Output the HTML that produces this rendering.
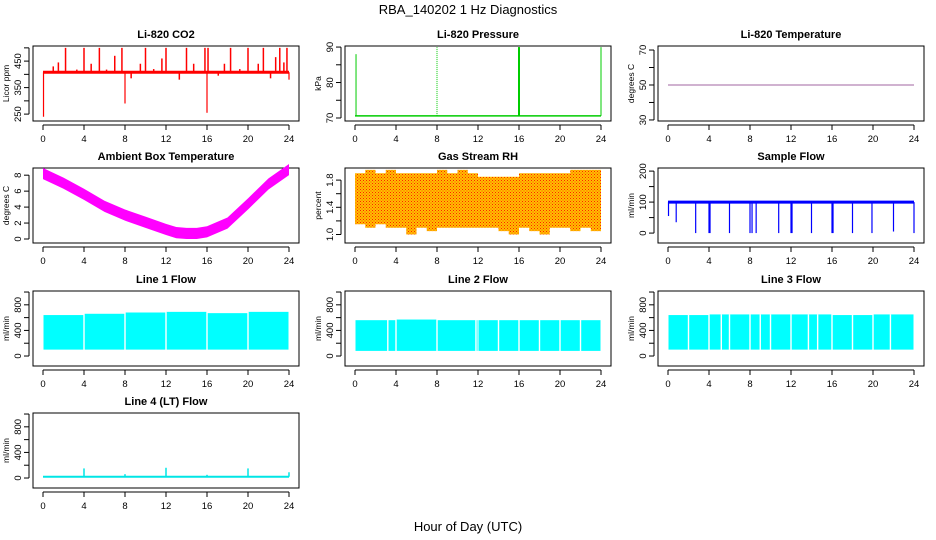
<!DOCTYPE html>
<html><head><meta charset="utf-8"><style>
body{margin:0;background:#fff}
svg{display:block;font-family:"Liberation Sans",sans-serif}
</style></head><body>
<svg id="c" width="936" height="540" viewBox="0 0 936 540">
<defs>
<pattern id="rhp" width="3" height="3" patternUnits="userSpaceOnUse"><rect width="3" height="3" fill="#ffc000"/><rect width="1" height="1" fill="#ff2000"/><rect x="1.5" y="1.5" width="1" height="1" fill="#ff4000"/></pattern>
</defs>
<text x="468" y="14" text-anchor="middle" font-size="13">RBA_140202  1 Hz Diagnostics</text>
<text x="468" y="531" text-anchor="middle" font-size="13">Hour of Day (UTC)</text>
</svg>
<script>
// ---- data ----
const xTicks=[0,4,8,12,16,20,24];
const co2Base=408;
const co2SpikeHours=[2.2,4.0,5.5,7.7,10.0,12.0,14.0,15.8,16.1,18.3,20.0,21.5,23.1,23.8];
const co2SpikeValues=[500,500,500,500,500,500,500,500,500,500,500,500,500,500];
const co2SmallHours=[1.0,1.5,3.3,4.7,6.2,7.0,8.6,9.5,10.8,11.6,13.3,14.7,17.1,17.7,19.2,21.0,22.2,22.7,23.5];
const co2SmallValues=[430,445,418,440,418,470,385,440,420,460,380,440,395,440,420,440,385,465,445];
const co2DropHours=[0.05,8.0,16.0,24.0];
const co2DropValues=[240,290,255,380];
const presBase=70.6;
const presSpikeHours=[0.1,8.0,16.0,24.0];
const presSpikeValues=[88,90,90,90];
const tempValue=50;
const ambHours=[0,2,4,6,8,10,12,13,14,15,16,18,20,22,24];
const ambCenter=[8.2,7.0,5.6,4.1,3.0,2.1,1.2,0.8,0.7,0.7,0.9,2.0,4.4,6.9,8.7];
const ambHalfWidth=0.7;
const rhHours=[0,1,2,3,4,5,6,7,8,9,10,11,12,13,14,15,16,17,18,19,20,21,22,23,24];
const rhUpper=[1.9,1.95,1.9,1.95,1.9,1.9,1.9,1.9,1.95,1.9,1.95,1.9,1.85,1.85,1.85,1.85,1.9,1.9,1.9,1.9,1.9,1.95,1.95,1.95,1.95];
const rhLower=[1.15,1.1,1.15,1.1,1.1,1.0,1.1,1.05,1.1,1.1,1.1,1.1,1.1,1.1,1.05,1.0,1.1,1.05,1.0,1.1,1.1,1.05,1.1,1.05,1.4];
const sfBase=100;
const sfDipHours=[0.05,0.8,2.7,4.0,4.1,6.0,8.0,8.2,8.6,10.8,12.0,12.1,14.0,16.0,16.1,18.0,19.9,22.0,24.0];
const sfDipValues=[55,35,0,0,0,0,0,0,0,0,0,0,0,0,0,0,0,5,0];
const segBreaks=[0,4,8,12,16,20,24];
const l1Upper=[640,660,680,690,670,690,650];
const l1Lower=[100,100,100,100,100,100,100];
const l2Upper=[560,570,560,560,560,560,560];
const l2Lower=[80,80,80,80,80,80,80];
const l2Gaps=[3.2,4.0,8.0,11.8,14.0,16.0,18.0,20.0,22.0];
const l3Upper=[640,650,650,650,640,650,640];
const l3Lower=[100,100,100,100,100,100,100];
const l3Gaps=[2.0,4.0,5.2,6.0,8.0,9.0,10.0,12.0,13.7,14.6,16.0,18.0,20.0,21.7];
const l4Base=20;
const l4SpikeHours=[4.0,8.0,12.0,16.0,20.0,24.0];
const l4SpikeValues=[150,60,160,50,150,90];

// ---- layout ----
const NS='http://www.w3.org/2000/svg';
const svg=document.getElementById('c');
function mk(tag,attrs,parent){const e=document.createElementNS(NS,tag);for(const k in attrs)e.setAttribute(k,attrs[k]);(parent||svg).appendChild(e);return e;}
const colX=[33,345,658], rowY=[46,168,291,413], BW=266, BH=75;
function panel(col,row,title,ylab,ylim,ticks,labels,name){
  const bx=colX[col],by=rowY[row];
  const g=mk('g',{});
  
  
  const P={g,bx,by,
    X:h=>bx+10+h*(BW-20)/24,
    Y:v=>by+BH-(v-ylim[0])/(ylim[1]-ylim[0])*BH};
  const t=mk('text',{x:bx+BW/2,y:by-8,'text-anchor':'middle','font-size':11,'font-weight':'bold'},g);t.textContent=title;
  
  const bxr=mk('rect',{x:bx,y:by,width:BW,height:BH,fill:'none',stroke:'#000','stroke-width':1},g);
  
  const xa=mk('g',{},g);
  mk('line',{x1:P.X(0),x2:P.X(24),y1:by+BH+4,y2:by+BH+4,stroke:'#000'},xa);
  xTicks.forEach(h=>{mk('line',{x1:P.X(h),x2:P.X(h),y1:by+BH+4,y2:by+BH+9,stroke:'#000'},xa);
    const l=mk('text',{x:P.X(h),y:by+BH+21,'text-anchor':'middle','font-size':9.5},xa);l.textContent=h;});
  const ya=mk('g',{},g);
  mk('line',{x1:bx-4,x2:bx-4,y1:P.Y(ticks[0]),y2:P.Y(ticks[ticks.length-1]),stroke:'#000'},ya);
  ticks.forEach(v=>{mk('line',{x1:bx-9,x2:bx-4,y1:P.Y(v),y2:P.Y(v),stroke:'#000'},ya);});
  labels.forEach(v=>{const yy=P.Y(v);const l=mk('text',{x:bx-12,y:yy,'text-anchor':'middle','font-size':9.5,transform:`rotate(-90 ${bx-12} ${yy})`},ya);l.textContent=(typeof v==='number'&&ylim[1]<3)?v.toFixed(1):v;});
  const yl=mk('text',{x:bx-24,y:by+BH/2,'text-anchor':'middle','font-size':8.5,transform:`rotate(-90 ${bx-24} ${by+BH/2})`},ya);yl.textContent=ylab;
  
  return P;
}
function vl(P,h,v0,v1,c,w,name,dash){const e=mk('line',{x1:P.X(h),x2:P.X(h),y1:P.Y(v0),y2:P.Y(v1),stroke:c,'stroke-width':w||1},P.g);if(dash)e.setAttribute('stroke-dasharray',dash);return e;}
function hl(P,h0,h1,v,c,w,name){const e=mk('line',{x1:P.X(h0),x2:P.X(h1),y1:P.Y(v),y2:P.Y(v),stroke:c,'stroke-width':w||1},P.g);return e;}

// CO2
let P=panel(0,0,'Li-820 CO2','Licor ppm',[224,507],[250,300,350,400,450,500],[250,350,450],'co2');
hl(P,0,24,co2Base,'#ff0000',3,'co2-baseline');
co2SpikeHours.forEach((h,i)=>vl(P,h,co2Base,co2SpikeValues[i],'#ff0000',1.5,'co2-spike'));
co2SmallHours.forEach((h,i)=>vl(P,h,co2Base,co2SmallValues[i],'#ff0000',1.5,'co2-small-spike'));
co2DropHours.forEach((h,i)=>vl(P,h,co2Base,co2DropValues[i],'#ff0000',1.2,'co2-drop'));

// Pressure
P=panel(1,0,'Li-820 Pressure','kPa',[69.15,90.3],[70,75,80,85,90],[70,80,90],'pressure');
hl(P,0,24,presBase,'#00cc00',1.5,'pressure-baseline');
presSpikeHours.forEach((h,i)=>vl(P,h,presBase,presSpikeValues[i],'#00cc00',i==2?2:1,'pressure-spike',i==1?'1 1':null));

// Temperature
P=panel(2,0,'Li-820 Temperature','degrees C',[29.4,72.3],[30,40,50,60,70],[30,50,70],'temperature');
hl(P,0,24,tempValue,'#803080',0.8,'temperature-line');

// Ambient
P=panel(0,1,'Ambient Box Temperature','degrees C',[-0.5,8.9],[0,2,4,6,8],[0,2,4,6,8],'ambient');
{let up=ambHours.map((h,i)=>P.X(h)+','+P.Y(ambCenter[i]+ambHalfWidth)).join(' ');
 let lo=ambHours.map((h,i)=>P.X(h)+','+P.Y(ambCenter[i]-ambHalfWidth)).reverse().join(' ');
 const e=mk('polygon',{points:up+' '+lo,fill:'#ff00ff'},P.g);}

// RH
P=panel(1,1,'Gas Stream RH','percent',[0.875,1.978],[1.0,1.2,1.4,1.6,1.8],[1.0,1.4,1.8],'rh');
{let pts=[];rhHours.forEach((h,i)=>{const h2=rhHours[i+1]!==undefined?rhHours[i+1]:h;pts.push(P.X(h)+','+P.Y(rhUpper[i]),P.X(h2)+','+P.Y(rhUpper[i]));});
 let lo=[];rhHours.forEach((h,i)=>{const h2=rhHours[i+1]!==undefined?rhHours[i+1]:h;lo.push(P.X(h)+','+P.Y(rhLower[i]),P.X(h2)+','+P.Y(rhLower[i]));});
 const e=mk('polygon',{points:pts.join(' ')+' '+lo.reverse().join(' '),fill:'url(#rhp)'},P.g);}

// Sample flow
P=panel(2,1,'Sample Flow','ml/min',[-32,210],[0,50,100,150,200],[0,100,200],'sample-flow');
hl(P,0,24,sfBase,'#0000ff',3,'sample-flow-baseline');
sfDipHours.forEach((h,i)=>vl(P,h,sfBase,sfDipValues[i],'#0000ff',1.2,'sample-flow-dip'));

// Line flows
function band(P,upper,lower,gaps,name){
  segBreaks.slice(0,-1).forEach((h,i)=>{const x0=P.X(h)+0.5,x1=P.X(segBreaks[i+1])-0.5;
    const r=mk('rect',{x:x0,y:P.Y(upper[i]),width:x1-x0,height:P.Y(lower[i])-P.Y(upper[i]),fill:'#00ffff'},P.g);
    });
  gaps.forEach(h=>{const r=mk('rect',{x:P.X(h)-0.7,y:P.Y(Math.max(...upper)),width:1.4,height:P.Y(0)-P.Y(Math.max(...upper))-4,fill:'#fff'},P.g);
    });
}
const lt=[0,200,400,600,800,1000],ll=[0,400,800],lyl=[-156,1016];
P=panel(0,2,'Line 1 Flow','ml/min',lyl,lt,ll,'line1-flow');band(P,l1Upper,l1Lower,[4,8,12,16,20],'line1-flow');
P=panel(1,2,'Line 2 Flow','ml/min',lyl,lt,ll,'line2-flow');band(P,l2Upper,l2Lower,l2Gaps,'line2-flow');
P=panel(2,2,'Line 3 Flow','ml/min',lyl,lt,ll,'line3-flow');band(P,l3Upper,l3Lower,l3Gaps,'line3-flow');
P=panel(0,3,'Line 4 (LT) Flow','ml/min',lyl,lt,ll,'line4-flow');
hl(P,0,24,l4Base,'#00e5e5',2,'line4-flow-baseline');
l4SpikeHours.forEach((h,i)=>vl(P,h,l4Base,l4SpikeValues[i],'#00e5e5',1.5,'line4-flow-spike'));
</script>
</body></html>
